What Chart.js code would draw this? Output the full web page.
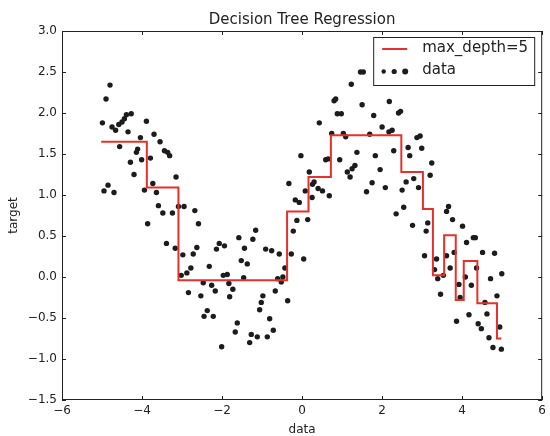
<!DOCTYPE html>
<html>
<head>
<meta charset="utf-8">
<script src="https://cdn.jsdelivr.net/npm/chart.js@4.4.1/dist/chart.umd.min.js"></script>
<style>
  html, body { margin: 0; padding: 0; background: #fff; }
  #wrap { width: 550px; height: 436px; }
</style>
</head>
<body>
<div id="wrap"><canvas id="c" width="550" height="436"></canvas></div>
<script>
// Noisy samples
const dataX = [
  -4.99, -4.95, -4.90, -4.85, -4.80, -4.75, -4.70, -4.66, -4.58, -4.56, -4.50, -4.44, -4.39, -4.35,
  -4.29, -4.27, -4.20, -4.14, -4.11, -4.04, -4.01, -3.94, -3.89, -3.86, -3.79, -3.73, -3.70, -3.64,
  -3.59, -3.55, -3.48, -3.44, -3.39, -3.36, -3.31, -3.24, -3.17, -3.15, -3.09, -3.02, -2.98, -2.95,
  -2.88, -2.84, -2.78, -2.72, -2.68, -2.63, -2.59, -2.53, -2.47, -2.45, -2.37, -2.32, -2.26, -2.22,
  -2.17, -2.14, -2.07, -2.01, -1.97, -1.94, -1.87, -1.83, -1.81, -1.73, -1.67, -1.62, -1.58, -1.52,
  -1.46, -1.44, -1.37, -1.31, -1.27, -1.23, -1.16, -1.12, -1.06, -1.02, -0.98, -0.91, -0.87, -0.81,
  -0.76, -0.72, -0.67, -0.61, -0.57, -0.52, -0.48, -0.43, -0.36, -0.33, -0.27, -0.22, -0.17, -0.13,
  -0.07, -0.03, 0.04, 0.08, 0.14, 0.18, 0.25, 0.26, 0.30, 0.40, 0.43, 0.51, 0.59, 0.65,
  0.68, 0.74, 0.80, 0.84, 0.88, 0.94, 0.98, 1.03, 1.09, 1.13, 1.20, 1.23, 1.25, 1.32,
  1.37, 1.46, 1.50, 1.53, 1.61, 1.69, 1.75, 1.79, 1.83, 1.95, 2.00, 2.08, 2.17, 2.18,
  2.25, 2.29, 2.35, 2.41, 2.46, 2.50, 2.54, 2.60, 2.65, 2.69, 2.76, 2.79, 2.87, 2.91,
  2.95, 2.99, 3.06, 3.10, 3.14, 3.20, 3.24, 3.31, 3.36, 3.39, 3.46, 3.53, 3.61, 3.61,
  3.66, 3.70, 3.76, 3.80, 3.86, 3.92, 3.95, 4.01, 4.08, 4.11, 4.17, 4.23, 4.28, 4.33,
  4.36, 4.40, 4.48, 4.51, 4.57, 4.62, 4.67, 4.71, 4.77, 4.81, 4.87, 4.94, 4.98, 4.99
];
const dataY = [
  1.88, 1.05, 2.17, 1.12, 2.34, 1.83, 1.03, 1.79, 1.86, 1.59, 1.89, 1.93, 1.98, 1.77,
  1.40, 1.99, 1.25, 1.52, 1.56, 1.70, 1.43, 1.06, 1.90, 0.65, 1.45, 1.14, 1.74, 1.03,
  0.87, 1.65, 0.78, 1.54, 0.41, 1.52, 1.48, 0.78, 0.35, 1.22, 0.86, 0.02, 0.27, 0.86,
  0.05, -0.19, 0.11, 0.28, 0.81, 0.36, 0.65, -0.23, -0.07, -0.48, -0.41, 0.13, -0.10, -0.48,
  -0.17, 0.34, 0.41, -0.85, 0.02, 0.38, 0.03, -0.08, -0.24, -0.15, -0.67, -0.56, 0.48, 0.20,
  -0.01, 0.35, 0.16, -0.80, -0.70, 0.46, 0.57, -0.73, -0.40, -0.31, -0.23, 0.34, -0.73, -0.51,
  0.32, -0.65, -0.17, -0.02, 0.28, -0.06, 0.00, 0.11, -0.29, 1.14, 0.28, 0.56, 0.94, 0.69,
  0.91, 1.48, 0.22, 1.05, 0.70, 1.28, 0.97, 1.13, 1.16, 1.08, 1.88, 1.05, 1.43, 1.44,
  0.99, 1.75, 2.15, 2.17, 1.99, 1.43, 1.99, 1.75, 1.71, 1.28, 1.22, 2.35, 1.32, 1.36,
  1.52, 2.50, 2.10, 2.50, 1.04, 1.74, 1.15, 1.97, 1.48, 1.31, 1.83, 1.09, 1.77, 2.14,
  1.79, 1.54, 0.77, 2.00, 2.02, 1.06, 0.85, 1.16, 1.58, 1.48, 0.63, 1.20, 1.70, 1.09,
  1.72, 1.57, 0.26, 0.56, 0.66, 1.24, 1.39, 0.09, 0.22, -0.02, -0.21, 0.02, 0.80, 0.26,
  0.86, 0.11, 0.70, 0.30, -0.54, -0.09, -0.25, 0.62, 0.00, 0.42, -0.46, -0.10, 0.48, 0.48,
  0.11, -0.57, -0.63, 0.30, -0.31, -0.45, -0.74, -0.02, -0.86, 0.29, -0.23, -0.61, -0.88, 0.04
];

// Tree prediction: split points and the value that starts at each one
const treeX = [-5.02, -3.88, -3.09, -0.375, 0.16, 0.72, 2.48, 3.02, 3.27, 3.55, 3.84, 4.04, 4.38, 4.87, 4.98];
const treeY = [1.65, 1.09, -0.04, 0.80, 1.22, 1.73, 1.28, 0.83, 0.02, 0.51, -0.28, 0.195, -0.32, -0.75, -0.75];

const xTicks = [-6, -4, -2, 0, 2, 4, 6];
const yTicks = [-1.5, -1.0, -0.5, 0.0, 0.5, 1.0, 1.5, 2.0, 2.5, 3.0];

const titleText = 'Decision Tree Regression';
const xLabel = 'data';
const yLabel = 'target';
const seriesNames = ['max_depth=5', 'data'];

const FONT = "'DejaVu Sans', 'Liberation Sans', sans-serif";
const INK = '#222222';
const RED = '#e8302a';
const DOT = '#1c1c1c';

const fmt = (v, d) => (v < 0 ? '\u2212' : '') + Math.abs(v).toFixed(d);

// Frame on all four sides with inward tick marks
const frameTicks = {
  id: 'frameTicks',
  afterDatasetsDraw(chart) {
    const { ctx, chartArea: a, scales } = chart;
    const len = 4;
    ctx.save();
    ctx.strokeStyle = INK;
    ctx.lineWidth = 1;
    ctx.beginPath();
    xTicks.forEach(v => {
      const p = Math.round(scales.x.getPixelForValue(v)) + 0.5;
      ctx.moveTo(p, a.bottom); ctx.lineTo(p, a.bottom - len);
      ctx.moveTo(p, a.top); ctx.lineTo(p, a.top + len);
    });
    yTicks.forEach(v => {
      const p = Math.round(scales.y.getPixelForValue(v)) + 0.5;
      ctx.moveTo(a.left, p); ctx.lineTo(a.left + len, p);
      ctx.moveTo(a.right, p); ctx.lineTo(a.right - len, p);
    });
    ctx.stroke();
    ctx.strokeRect(a.left + 0.5, a.top + 0.5, a.right - a.left - 1, a.bottom - a.top - 1);
    ctx.restore();
  }
};

// Boxed legend in the upper right corner of the plot
const legendBox = {
  id: 'legendBox',
  afterDraw(chart) {
    const { ctx, chartArea: a } = chart;
    const x0 = a.right - 169, y0 = a.top + 6, w = 161, h = 48;
    ctx.save();
    ctx.fillStyle = '#ffffff';
    ctx.fillRect(x0, y0, w, h);
    ctx.strokeStyle = INK;
    ctx.lineWidth = 1;
    ctx.strokeRect(x0 + 0.5, y0 + 0.5, w, h);

    ctx.strokeStyle = RED;
    ctx.lineWidth = 2;
    ctx.beginPath();
    ctx.moveTo(x0 + 9, y0 + 12);
    ctx.lineTo(x0 + 34, y0 + 12);
    ctx.stroke();

    ctx.fillStyle = DOT;
    [[10.5, 2.2], [21, 2.6], [32, 3.0]].forEach(([dx, r]) => {
      ctx.beginPath();
      ctx.arc(x0 + dx, y0 + 34.5, r, 0, Math.PI * 2);
      ctx.fill();
    });

    ctx.fillStyle = INK;
    ctx.font = '15px ' + FONT;
    ctx.textAlign = 'left';
    ctx.textBaseline = 'middle';
    ctx.fillText(seriesNames[0], x0 + 49, y0 + 11.5);
    ctx.fillText(seriesNames[1], x0 + 49, y0 + 33.5);
    ctx.restore();
  }
};

new Chart(document.getElementById('c'), {
  type: 'scatter',
  data: {
    datasets: [
      {
        type: 'line',
        label: seriesNames[0],
        data: treeX.map((x, i) => ({ x, y: treeY[i] })),
        borderColor: RED,
        borderWidth: 2,
        stepped: 'before',
        pointRadius: 0,
        fill: false,
        tension: 0
      },
      {
        type: 'scatter',
        label: seriesNames[1],
        data: dataX.map((x, i) => ({ x, y: dataY[i] })),
        backgroundColor: DOT,
        borderColor: DOT,
        borderWidth: 0,
        pointRadius: 2.7
      }
    ]
  },
  options: {
    responsive: false,
    animation: false,
    devicePixelRatio: 1,
    layout: { padding: { left: 0, right: 5, top: 0, bottom: 0 } },
    plugins: {
      legend: { display: false },
      tooltip: { enabled: false },
      title: {
        display: true,
        text: titleText,
        fullSize: false,
        color: INK,
        font: { family: FONT, size: 15, weight: 'normal', lineHeight: 1.2 },
        padding: { top: 11, bottom: 2 }
      }
    },
    scales: {
      x: {
        type: 'linear',
        min: -6, max: 6,
        afterBuildTicks: s => { s.ticks = xTicks.map(v => ({ value: v })); },
        afterFit: s => { s.height = 36; },
        grid: { display: false, drawTicks: false },
        border: { display: false },
        ticks: {
          color: INK,
          padding: 4,
          maxRotation: 0,
          font: { family: FONT, size: 12 },
          callback: v => fmt(v, 0)
        },
        title: {
          display: true, text: xLabel, color: INK,
          font: { family: FONT, size: 12, lineHeight: 1 },
          padding: { top: 0, bottom: 0 }
        }
      },
      y: {
        type: 'linear',
        min: -1.5, max: 3.0,
        afterBuildTicks: s => { s.ticks = yTicks.map(v => ({ value: v })); },
        afterFit: s => { s.width = 62; },
        grid: { display: false, drawTicks: false },
        border: { display: false },
        ticks: {
          color: INK,
          padding: 5,
          font: { family: FONT, size: 12 },
          callback: v => fmt(v, 1)
        },
        title: {
          display: true, text: yLabel, color: INK,
          font: { family: FONT, size: 12, lineHeight: 1 },
          padding: { top: 8, bottom: 0 }
        }
      }
    }
  },
  plugins: [frameTicks, legendBox]
});
</script>
</body>
</html>
